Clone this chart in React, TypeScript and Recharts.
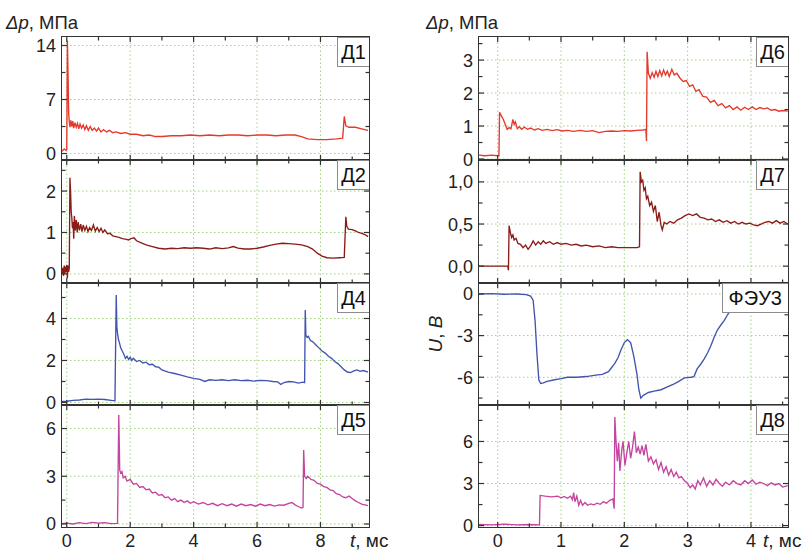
import React from "react";
import { LineChart, Line, XAxis, YAxis, ReferenceLine } from "recharts";

type Pt = [number, number];

// --- traces: [t, ms ; value] ---
const d1: Pt[] = [
  [-0.15, 0.3], [-0.08, 0.6], [-0.03, 0.4], [0.0, 0.5], [0.02, 14.6], [0.04, 10.5], [0.06, 5.2],
  [0.08, 4.1], [0.1, 3.4], [0.13, 4.3], [0.16, 3.5], [0.19, 4.2], [0.22, 3.3], [0.26, 4.0],
  [0.3, 3.4], [0.34, 3.9], [0.38, 3.2], [0.42, 3.8], [0.47, 3.3], [0.52, 3.7], [0.57, 3.1],
  [0.62, 3.6], [0.68, 3.0], [0.74, 3.5], [0.8, 3.0], [0.87, 3.3], [0.94, 2.9], [1.0, 3.3],
  [1.08, 2.8], [1.16, 3.1], [1.25, 2.8], [1.35, 3.0], [1.45, 2.7], [1.55, 2.8], [1.7, 2.6],
  [1.85, 2.7], [2.0, 2.5], [2.2, 2.5], [2.4, 2.3], [2.6, 2.4], [2.8, 2.2], [3.0, 2.2], [3.3, 2.3],
  [3.6, 2.3], [3.9, 2.4], [4.2, 2.3], [4.5, 2.4], [4.8, 2.3], [5.1, 2.4], [5.4, 2.4], [5.7, 2.3],
  [6.0, 2.4], [6.3, 2.4], [6.6, 2.3], [6.9, 2.4], [7.2, 2.4], [7.4, 2.2], [7.6, 1.9], [7.9, 1.8],
  [8.2, 1.8], [8.5, 1.9], [8.7, 2.0], [8.75, 4.8], [8.8, 3.6], [8.9, 3.4], [9.1, 3.4], [9.3, 3.2],
  [9.5, 3.0],
];

const d2: Pt[] = [
  [-0.15, 0.0], [-0.12, 0.15], [-0.1, -0.05], [-0.08, 0.2], [-0.06, 0.0], [-0.04, 0.18],
  [-0.02, 0.05], [0.0, 0.22], [0.02, -0.1], [0.04, 0.2], [0.06, 0.05], [0.08, 0.15], [0.1, 2.32],
  [0.12, 2.0], [0.14, 1.5], [0.16, 1.35], [0.18, 1.1], [0.2, 1.25], [0.22, 0.85], [0.24, 1.4],
  [0.27, 1.05], [0.3, 1.3], [0.33, 1.0], [0.36, 1.25], [0.4, 1.05], [0.44, 1.2], [0.48, 1.02],
  [0.52, 1.18], [0.57, 1.05], [0.62, 1.15], [0.67, 1.02], [0.72, 1.12], [0.78, 1.05], [0.84, 1.18],
  [0.9, 1.03], [0.96, 1.12], [1.02, 1.02], [1.08, 1.1], [1.14, 1.0], [1.2, 1.06], [1.28, 0.97],
  [1.36, 0.98], [1.45, 0.92], [1.55, 0.9], [1.65, 0.88], [1.75, 0.85], [1.85, 0.84], [1.95, 0.82],
  [2.05, 0.86], [2.12, 0.87], [2.2, 0.8], [2.35, 0.75], [2.5, 0.7], [2.7, 0.66], [2.9, 0.62],
  [3.1, 0.6], [3.3, 0.62], [3.5, 0.61], [3.7, 0.63], [3.9, 0.62], [4.1, 0.63], [4.3, 0.62],
  [4.5, 0.6], [4.7, 0.63], [4.9, 0.61], [5.1, 0.63], [5.25, 0.66], [5.4, 0.62], [5.6, 0.6],
  [5.8, 0.6], [6.0, 0.62], [6.2, 0.65], [6.4, 0.69], [6.6, 0.72], [6.8, 0.74], [7.0, 0.73],
  [7.2, 0.72], [7.4, 0.7], [7.6, 0.66], [7.75, 0.6], [7.9, 0.5], [8.05, 0.43], [8.2, 0.39],
  [8.4, 0.38], [8.6, 0.39], [8.75, 0.4], [8.8, 1.38], [8.83, 1.15], [8.88, 1.08], [9.0, 1.07],
  [9.1, 1.04], [9.2, 1.0], [9.3, 0.98], [9.4, 0.95], [9.5, 0.9],
];

const d4: Pt[] = [
  [-0.15, 0.05], [0.0, 0.06], [0.2, 0.1], [0.4, 0.12], [0.6, 0.16], [0.8, 0.15], [1.0, 0.16],
  [1.2, 0.14], [1.4, 0.1], [1.52, 0.08], [1.56, 5.12], [1.58, 3.6], [1.6, 3.3], [1.63, 3.0],
  [1.66, 2.85], [1.7, 2.6], [1.75, 2.45], [1.8, 2.3], [1.85, 2.1], [1.9, 2.2], [1.95, 2.05],
  [2.0, 2.15], [2.05, 2.0], [2.1, 2.1], [2.2, 1.95], [2.3, 2.0], [2.4, 1.88], [2.5, 1.92],
  [2.6, 1.8], [2.7, 1.82], [2.8, 1.7], [2.9, 1.68], [3.0, 1.55], [3.2, 1.45], [3.4, 1.38],
  [3.6, 1.3], [3.8, 1.22], [4.0, 1.15], [4.2, 1.1], [4.35, 1.0], [4.5, 1.08], [4.7, 1.05],
  [4.9, 1.08], [5.1, 1.04], [5.3, 1.08], [5.5, 1.04], [5.7, 1.06], [5.9, 1.02], [6.1, 1.05],
  [6.3, 1.04], [6.5, 1.0], [6.65, 0.98], [6.75, 0.86], [6.85, 0.95], [7.0, 1.0], [7.15, 0.98],
  [7.3, 0.92], [7.45, 0.97], [7.5, 0.95], [7.52, 4.4], [7.54, 3.2], [7.58, 3.1], [7.62, 3.15],
  [7.68, 2.95], [7.75, 2.9], [7.85, 2.75], [7.95, 2.6], [8.05, 2.45], [8.15, 2.35], [8.25, 2.2],
  [8.35, 2.1], [8.45, 1.95], [8.55, 1.85], [8.65, 1.7], [8.75, 1.55], [8.85, 1.45], [8.95, 1.42],
  [9.05, 1.5], [9.15, 1.55], [9.25, 1.48], [9.35, 1.52], [9.5, 1.45],
];

const d5: Pt[] = [
  [-0.15, 0.02], [0.0, 0.05], [0.2, 0.0], [0.4, 0.08], [0.6, 0.02], [0.8, 0.1], [1.0, 0.05],
  [1.2, 0.08], [1.4, 0.02], [1.6, 0.04], [1.64, 6.85], [1.67, 3.4], [1.7, 3.2], [1.74, 3.3],
  [1.78, 2.9], [1.84, 3.0], [1.9, 2.7], [2.0, 2.8], [2.1, 2.5], [2.2, 2.55], [2.3, 2.3],
  [2.4, 2.35], [2.5, 2.15], [2.6, 2.2], [2.7, 1.95], [2.8, 2.0], [2.9, 1.8], [3.0, 1.85],
  [3.1, 1.65], [3.2, 1.7], [3.3, 1.5], [3.4, 1.6], [3.5, 1.4], [3.6, 1.5], [3.7, 1.35], [3.8, 1.45],
  [3.9, 1.3], [4.0, 1.4], [4.15, 1.25], [4.3, 1.35], [4.45, 1.2], [4.6, 1.3], [4.75, 1.15],
  [4.9, 1.28], [5.05, 1.15], [5.2, 1.25], [5.35, 1.12], [5.5, 1.25], [5.65, 1.15], [5.8, 1.22],
  [5.95, 1.12], [6.1, 1.25], [6.25, 1.15], [6.4, 1.22], [6.55, 1.12], [6.7, 1.2], [6.85, 1.18],
  [7.0, 1.3], [7.1, 1.35], [7.2, 1.2], [7.3, 1.1], [7.4, 1.0], [7.45, 1.05], [7.47, 4.65],
  [7.5, 3.0], [7.55, 2.85], [7.6, 3.0], [7.7, 2.8], [7.8, 2.75], [7.9, 2.55], [8.0, 2.5],
  [8.1, 2.35], [8.2, 2.3], [8.3, 2.15], [8.4, 2.1], [8.5, 1.9], [8.6, 1.85], [8.7, 1.7],
  [8.8, 1.65], [8.9, 1.75], [9.0, 1.6], [9.1, 1.45], [9.2, 1.35], [9.3, 1.25], [9.4, 1.2],
  [9.5, 1.15],
];

const d6: Pt[] = [
  [-0.3, 0.12], [-0.2, 0.1], [-0.1, 0.12], [0.0, 0.1], [0.02, 0.1], [0.03, 1.42], [0.06, 1.3],
  [0.09, 1.2], [0.12, 1.05], [0.15, 0.9], [0.18, 0.95], [0.21, 0.92], [0.24, 1.2], [0.26, 1.05],
  [0.28, 1.12], [0.31, 0.92], [0.34, 0.98], [0.38, 0.9], [0.42, 0.97], [0.47, 0.9], [0.52, 0.94],
  [0.58, 0.88], [0.64, 0.92], [0.7, 0.87], [0.78, 0.9], [0.86, 0.86], [0.94, 0.89], [1.02, 0.85],
  [1.1, 0.87], [1.2, 0.84], [1.3, 0.87], [1.4, 0.84], [1.5, 0.86], [1.6, 0.8], [1.7, 0.84],
  [1.8, 0.85], [1.9, 0.84], [2.0, 0.86], [2.1, 0.85], [2.2, 0.87], [2.3, 0.88], [2.34, 0.9],
  [2.35, 0.55], [2.36, 3.25], [2.38, 2.6], [2.41, 2.45], [2.44, 2.62], [2.47, 2.48], [2.5, 2.66],
  [2.53, 2.5], [2.56, 2.68], [2.59, 2.52], [2.62, 2.7], [2.65, 2.55], [2.68, 2.66], [2.71, 2.5],
  [2.75, 2.72], [2.79, 2.55], [2.83, 2.6], [2.88, 2.45], [2.93, 2.35], [2.98, 2.38], [3.03, 2.2],
  [3.08, 2.25], [3.13, 2.05], [3.18, 2.1], [3.24, 1.9], [3.3, 1.88], [3.36, 1.72], [3.42, 1.78],
  [3.48, 1.62], [3.54, 1.68], [3.6, 1.55], [3.66, 1.62], [3.72, 1.5], [3.78, 1.58], [3.84, 1.48],
  [3.9, 1.57], [3.96, 1.5], [4.02, 1.58], [4.08, 1.5], [4.14, 1.56], [4.2, 1.52], [4.26, 1.55],
  [4.32, 1.48], [4.38, 1.5], [4.44, 1.45], [4.5, 1.47], [4.58, 1.45],
];

const d7: Pt[] = [
  [-0.3, 0.0], [-0.1, 0.0], [0.1, 0.0], [0.16, 0.0], [0.17, -0.05], [0.18, 0.48], [0.2, 0.4],
  [0.22, 0.34], [0.24, 0.37], [0.26, 0.31], [0.29, 0.33], [0.32, 0.27], [0.36, 0.26], [0.4, 0.22],
  [0.44, 0.25], [0.48, 0.2], [0.52, 0.24], [0.56, 0.3], [0.6, 0.25], [0.64, 0.29], [0.68, 0.26],
  [0.72, 0.3], [0.76, 0.27], [0.82, 0.29], [0.88, 0.26], [0.94, 0.28], [1.0, 0.26], [1.08, 0.27],
  [1.16, 0.25], [1.24, 0.26], [1.32, 0.24], [1.4, 0.25], [1.5, 0.23], [1.6, 0.24], [1.7, 0.22],
  [1.8, 0.23], [1.9, 0.22], [2.0, 0.22], [2.1, 0.22], [2.2, 0.22], [2.24, 0.23], [2.25, 1.12],
  [2.27, 1.0], [2.29, 1.02], [2.31, 0.9], [2.33, 0.93], [2.35, 0.8], [2.37, 0.83], [2.4, 0.72],
  [2.43, 0.76], [2.46, 0.65], [2.49, 0.72], [2.52, 0.53], [2.55, 0.64], [2.58, 0.48], [2.6, 0.43],
  [2.63, 0.52], [2.67, 0.5], [2.72, 0.53], [2.78, 0.51], [2.84, 0.55], [2.9, 0.57], [2.96, 0.6],
  [3.02, 0.62], [3.08, 0.6], [3.14, 0.62], [3.2, 0.58], [3.26, 0.57], [3.32, 0.55], [3.38, 0.56],
  [3.44, 0.53], [3.5, 0.55], [3.56, 0.52], [3.62, 0.54], [3.68, 0.51], [3.74, 0.53], [3.8, 0.5],
  [3.86, 0.52], [3.92, 0.5], [3.98, 0.51], [4.04, 0.49], [4.1, 0.48], [4.16, 0.5], [4.22, 0.52],
  [4.28, 0.53], [4.34, 0.51], [4.4, 0.54], [4.46, 0.51], [4.52, 0.53], [4.58, 0.5],
];

const feu3: Pt[] = [
  [-0.3, 0.0], [-0.1, 0.02], [0.1, -0.02], [0.3, 0.0], [0.45, -0.05], [0.52, -0.15], [0.56, -0.45],
  [0.59, -1.9], [0.62, -4.3], [0.65, -6.2], [0.68, -6.45], [0.72, -6.4], [0.78, -6.3], [0.88, -6.2],
  [1.0, -6.1], [1.1, -6.0], [1.25, -6.0], [1.4, -5.95], [1.55, -5.85], [1.65, -5.8], [1.75, -5.6],
  [1.8, -5.3], [1.85, -5.0], [1.9, -4.6], [1.95, -4.0], [2.0, -3.5], [2.05, -3.3], [2.1, -3.5],
  [2.15, -4.5], [2.2, -5.8], [2.23, -6.9], [2.26, -7.5], [2.3, -7.3], [2.38, -7.1], [2.47, -7.0],
  [2.58, -6.9], [2.68, -6.7], [2.78, -6.5], [2.86, -6.3], [2.95, -6.05], [3.05, -6.0], [3.1, -5.95],
  [3.15, -5.4], [3.2, -5.1], [3.26, -4.7], [3.32, -4.2], [3.37, -3.7], [3.42, -3.1], [3.47, -2.6],
  [3.53, -2.2], [3.58, -1.9], [3.63, -1.5], [3.68, -1.15], [3.73, -0.8], [3.8, -0.4],
];

const d8: Pt[] = [
  [-0.3, 0.08], [-0.1, 0.05], [0.1, 0.1], [0.3, 0.05], [0.5, 0.08], [0.66, 0.05], [0.67, 2.15],
  [0.75, 2.1], [0.85, 2.05], [0.95, 2.1], [1.0, 1.98], [1.05, 2.08], [1.1, 1.95], [1.15, 2.1],
  [1.18, 1.85], [1.2, 2.35], [1.22, 1.7], [1.25, 2.1], [1.28, 1.45], [1.31, 1.8], [1.34, 1.45],
  [1.38, 1.65], [1.42, 1.45], [1.47, 1.55], [1.52, 1.48], [1.57, 1.6], [1.62, 1.52], [1.67, 1.7],
  [1.72, 1.6], [1.77, 1.8], [1.82, 1.9], [1.84, 1.2], [1.85, 7.75], [1.87, 5.9], [1.89, 4.6],
  [1.91, 5.9], [1.93, 3.9], [1.96, 5.4], [1.98, 6.0], [2.01, 4.3], [2.04, 5.2], [2.07, 6.0],
  [2.1, 4.8], [2.13, 5.6], [2.16, 6.7], [2.19, 5.2], [2.22, 5.6], [2.25, 5.1], [2.28, 5.7],
  [2.31, 5.0], [2.34, 5.8], [2.38, 4.6], [2.42, 4.9], [2.46, 4.4], [2.5, 4.7], [2.54, 4.0],
  [2.58, 4.5], [2.62, 3.8], [2.66, 4.2], [2.7, 3.6], [2.74, 4.0], [2.78, 3.5], [2.82, 3.8],
  [2.86, 3.4], [2.9, 3.5], [2.95, 3.2], [3.0, 3.0], [3.04, 2.7], [3.08, 2.9], [3.12, 2.6],
  [3.16, 3.2], [3.2, 2.9], [3.25, 3.4], [3.3, 2.8], [3.35, 3.2], [3.4, 2.9], [3.45, 3.3], [3.5, 3.0],
  [3.55, 2.8], [3.6, 3.1], [3.66, 2.9], [3.72, 3.2], [3.78, 3.0], [3.84, 2.9], [3.9, 3.2],
  [3.96, 3.0], [4.02, 3.25], [4.08, 2.95], [4.14, 3.1], [4.2, 3.0], [4.26, 2.85], [4.32, 3.05],
  [4.38, 2.9], [4.44, 3.0], [4.5, 2.75], [4.58, 2.85],
];

// --- axis ticks ---
const leftXMajor = [0, 2, 4, 6, 8];
const leftXMinor = [1, 3, 5, 7, 9];
const rightXMajor = [0, 1, 2, 3, 4];
const rightXMinor = [0.5, 1.5, 2.5, 3.5, 4.5];

const RED = "#e5392c";
const BROWN = "#8a1c18";
const BLUE = "#4254b0";
const MAGENTA = "#c4449f";
const AXIS = "#333";
const GRID = "#a3d088";
const FONT = '"Liberation Sans", Arial, sans-serif';
const TICK_FS = 18;

const TOPS = [37, 160, 283, 405];
const HEIGHTS = [123, 123, 122, 122];
const COLS = [
  { x: 62, w: 307, domain: [-0.15, 9.53], major: leftXMajor, minor: leftXMinor },
  { x: 479, w: 309, domain: [-0.295, 4.585], major: rightXMajor, minor: rightXMinor },
];
const YW = 50;

type PanelCfg = {
  col: number;
  row: number;
  name: string;
  data: Pt[];
  color: string;
  yDomain: number[];
  yMajor: number[];
  yMinor: number[];
  comma?: boolean;
  pad?: number;
};

const panels: PanelCfg[] = [
  { col: 0, row: 0, name: "Д1", data: d1, color: RED, yDomain: [-0.84, 15.1], yMajor: [0, 7, 14], yMinor: [3.5, 10.5] },
  { col: 0, row: 1, name: "Д2", data: d2, color: BROWN, yDomain: [-0.22, 2.75], yMajor: [0, 1, 2], yMinor: [0.5, 1.5, 2.5] },
  { col: 0, row: 2, name: "Д4", data: d4, color: BLUE, yDomain: [-0.12, 5.69], yMajor: [0, 2, 4], yMinor: [1, 3, 5] },
  { col: 0, row: 3, name: "Д5", data: d5, color: MAGENTA, yDomain: [-0.19, 7.48], yMajor: [0, 3, 6], yMinor: [1.5, 4.5] },
  { col: 1, row: 0, name: "Д6", data: d6, color: RED, yDomain: [-0.03, 3.7], yMajor: [0, 1, 2, 3], yMinor: [0.5, 1.5, 2.5, 3.5] },
  { col: 1, row: 1, name: "Д7", data: d7, color: BROWN, yDomain: [-0.2, 1.26], yMajor: [0, 0.5, 1], yMinor: [0.25, 0.75], comma: true },
  { col: 1, row: 2, name: "ФЭУ3", data: feu3, color: BLUE, yDomain: [-8, 0.79], yMajor: [-6, -3, 0], yMinor: [-7.5, -4.5, -1.5], pad: 6 },
  { col: 1, row: 3, name: "Д8", data: d8, color: MAGENTA, yDomain: [-0.1, 8.6], yMajor: [0, 3, 6], yMinor: [1.5, 4.5, 7.5] },
];

function xTick(major: number[], plotH: number, labels: boolean) {
  return (p: any) => {
    const { x, y, payload } = p;
    const isMajor = major.includes(payload.value);
    const len = isMajor ? 5 : 3.5;
    return (
      <g>
        <line x1={x} y1={y} x2={x} y2={y - len} stroke={AXIS} strokeWidth={1.2} />
        <line x1={x} y1={y - plotH} x2={x} y2={y - plotH + len} stroke={AXIS} strokeWidth={1.2} />
        {labels && isMajor && (
          <text x={x} y={y + 20} textAnchor="middle" fontSize={TICK_FS} fill="#222" fontFamily={FONT}>
            {payload.value}
          </text>
        )}
      </g>
    );
  };
}

function yTick(major: number[], plotW: number, comma?: boolean) {
  return (p: any) => {
    const { x, y, payload } = p;
    const v: number = payload.value;
    const isMajor = major.includes(v);
    const len = isMajor ? 5 : 3.5;
    const txt = comma ? v.toFixed(1).replace(".", ",") : String(v);
    return (
      <g>
        <line x1={x} y1={y} x2={x + len} y2={y} stroke={AXIS} strokeWidth={1.2} />
        <line x1={x + plotW} y1={y} x2={x + plotW - len} y2={y} stroke={AXIS} strokeWidth={1.2} />
        {isMajor && (
          <text x={x - 6} y={y + 6.5} textAnchor="end" fontSize={TICK_FS} fill="#222" fontFamily={FONT}>
            {txt}
          </text>
        )}
      </g>
    );
  };
}

function Panel({ cfg }: { cfg: PanelCfg }) {
  const col = COLS[cfg.col];
  const top = TOPS[cfg.row];
  const plotH = HEIGHTS[cfg.row];
  const bottom = cfg.row === 3;
  const xh = 30;
  const rows = cfg.data.map(([t, v]) => ({ t, v }));
  const xTicks = [...col.major, ...col.minor].sort((a, b) => a - b);
  const yTicks = [...cfg.yMajor, ...cfg.yMinor].sort((a, b) => a - b);
  return (
    <>
      <div style={{ position: "absolute", left: col.x - YW, top }}>
        <LineChart
          width={YW + col.w}
          height={plotH + xh}
          data={rows}
          margin={{ top: 0, right: 0, bottom: 0, left: 0 }}
        >
          <XAxis
            type="number"
            dataKey="t"
            domain={col.domain}
            allowDataOverflow
            ticks={xTicks}
            interval={0}
            height={xh}
            tickSize={0}
            tickMargin={0}
            tickLine={false}
            axisLine={false}
            tick={xTick(col.major, plotH, bottom)}
          />
          <YAxis
            type="number"
            domain={cfg.yDomain}
            allowDataOverflow
            ticks={yTicks}
            interval={0}
            width={YW}
            tickSize={0}
            tickMargin={0}
            tickLine={false}
            axisLine={false}
            tick={yTick(cfg.yMajor, col.w, cfg.comma)}
          />
          {col.major.map((v) => (
            <ReferenceLine key={"x" + v} x={v} stroke={GRID} strokeDasharray="1.5 2.5" />
          ))}
          {cfg.yMajor.map((v) => (
            <ReferenceLine key={"y" + v} y={v} stroke={GRID} strokeDasharray="1.5 2.5" />
          ))}
          <Line
            type="linear"
            dataKey="v"
            stroke={cfg.color}
            strokeWidth={1.35}
            dot={false}
            activeDot={false}
            isAnimationActive={false}
          />
        </LineChart>
      </div>
      <div
        style={{
          position: "absolute",
          right: 809 - (col.x + col.w) - 1,
          top: top,
          height: 28,
          lineHeight: "29px",
          padding: `0 ${cfg.pad ?? 3}px`,
          background: "#fff",
          border: "1px solid #8c8c8c",
          fontSize: 20,
          color: "#111",
        }}
      >
        {cfg.name}
      </div>
      <div
        style={{
          position: "absolute",
          left: col.x - 1,
          top: top - 1,
          width: col.w + 2,
          height: plotH + 2,
          boxSizing: "border-box",
          border: `1.5px solid ${AXIS}`,
          pointerEvents: "none",
        }}
      />
    </>
  );
}

export default function App() {
  return (
    <div
      style={{
        position: "absolute",
        left: 0,
        top: 0,
        width: 809,
        height: 551,
        background: "#fff",
        fontFamily: FONT,
        overflow: "hidden",
      }}
    >
      {panels.map((p) => (
        <Panel key={p.name} cfg={p} />
      ))}
      <div style={{ position: "absolute", left: 6, top: 13, fontSize: 18.5, lineHeight: "20px", color: "#222" }}>
        <i>Δp</i>, МПа
      </div>
      <div style={{ position: "absolute", left: 426, top: 13, fontSize: 18.5, lineHeight: "20px", color: "#222" }}>
        <i>Δp</i>, МПа
      </div>
      <div
        style={{
          position: "absolute",
          left: 436,
          top: 334,
          fontSize: 19,
          lineHeight: "20px",
          color: "#222",
          whiteSpace: "nowrap",
          transform: "translate(-50%, -50%) rotate(-90deg)",
        }}
      >
        <i>U</i>, <i>В</i>
      </div>
      <div style={{ position: "absolute", left: 350, top: 531, fontSize: 19, lineHeight: "20px", color: "#222", whiteSpace: "nowrap" }}>
        <i>t</i>, мс
      </div>
      <div style={{ position: "absolute", left: 763, top: 531, fontSize: 19, lineHeight: "20px", color: "#222", whiteSpace: "nowrap" }}>
        <i>t</i>, мс
      </div>
    </div>
  );
}
